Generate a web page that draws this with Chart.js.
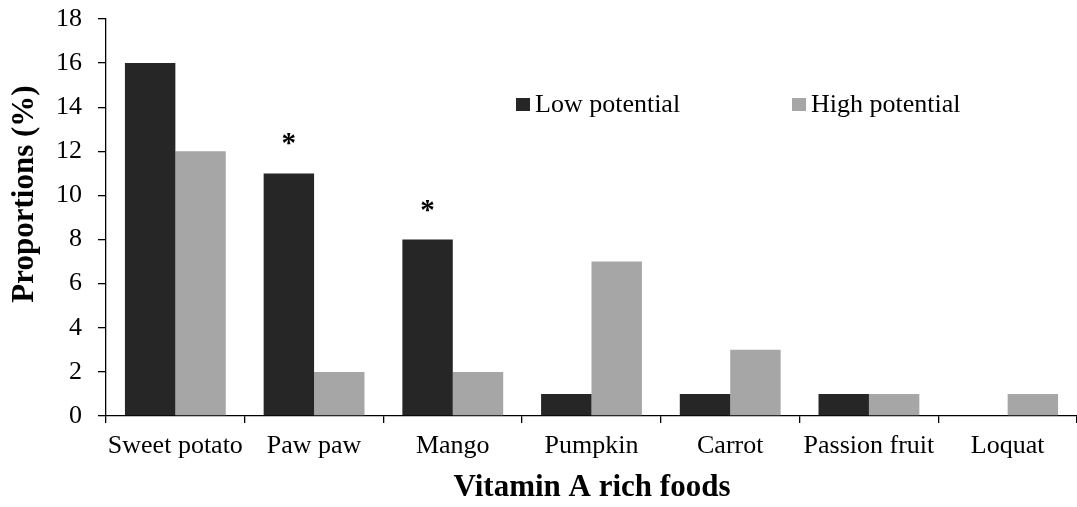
<!DOCTYPE html>
<html>
<head>
<meta charset="utf-8">
<title>Vitamin A rich foods</title>
<script src="https://cdn.jsdelivr.net/npm/chart.js@4/dist/chart.umd.min.js"></script>
<style>
    html, body { margin: 0; padding: 0; background: #ffffff; }
    #wrap { width: 1077px; height: 507px; position: relative; }
</style>
</head>
<body>
<div id="wrap"><canvas id="foodChart" width="1077" height="507"></canvas></div>
<script>
// ---------- data ----------
const foods = ['Sweet potato', 'Paw paw', 'Mango', 'Pumpkin', 'Carrot', 'Passion fruit', 'Loquat'];
const lowPotential = [16, 11, 8, 1, 1, 1, 0];
const highPotential = [12, 2, 2, 7, 3, 1, 1];
const lowMarks = ['', '*', '*', '', '', '', '']; // significance flags over the low potential bars
const yTicks = [0, 2, 4, 6, 8, 10, 12, 14, 16, 18];

const SERIF = '"Liberation Serif", "Times New Roman", Times, serif';
const DARK = '#262626';
const GREY = '#a6a6a6';

// axis titles, legend and asterisks are drawn by hand on the canvas
const extrasPlugin = {
    id: 'extras',
    afterDraw(chart) {
        const ctx = chart.ctx;
        ctx.save();
        ctx.fillStyle = '#000';

        // y axis title
        ctx.font = 'bold 31px ' + SERIF;
        ctx.textAlign = 'center';
        ctx.textBaseline = 'middle';
        ctx.save();
        ctx.translate(25, 194);
        ctx.rotate(-Math.PI / 2);
        ctx.fillText('Proportions (%)', 0, 0);
        ctx.restore();

        // x axis title
        ctx.fillText('Vitamin A rich foods', 592, 488);

        // legend
        ctx.font = '26px ' + SERIF;
        ctx.textAlign = 'left';
        ctx.textBaseline = 'alphabetic';
        const legendItems = [
            { x: 516, ds: chart.data.datasets[0] },
            { x: 792, ds: chart.data.datasets[1] }
        ];
        legendItems.forEach(item => {
            ctx.fillStyle = item.ds.backgroundColor;
            ctx.fillRect(item.x, 98, 14, 13);
            ctx.fillStyle = '#000';
            ctx.fillText(item.ds.label, item.x + 19, 112);
        });

        // asterisks above the flagged bars
        ctx.font = 'bold 29px ' + SERIF;
        ctx.textAlign = 'center';
        const meta = chart.getDatasetMeta(0);
        lowMarks.forEach((mark, i) => {
            if (!mark) return;
            const bar = meta.data[i];
            ctx.fillText(mark, bar.x, bar.y - 21);
        });
        ctx.restore();
    }
};

new Chart(document.getElementById('foodChart'), {
    type: 'bar',
    data: {
        labels: foods,
        datasets: [
            { label: 'Low potential', data: lowPotential, backgroundColor: DARK },
            { label: 'High potential', data: highPotential, backgroundColor: GREY }
        ]
    },
    options: {
        responsive: false,
        animation: false,
        events: [],
        datasets: {
            bar: { categoryPercentage: 0.727, barPercentage: 1.0 }
        },
        layout: { padding: { top: 19, right: 0, left: 0, bottom: 0 } },
        plugins: {
            legend: { display: false },
            tooltip: { enabled: false }
        },
        scales: {
            x: {
                grid: {
                    offset: true,
                    drawOnChartArea: false,
                    color: '#000',
                    lineWidth: 1.3,
                    tickLength: 7
                },
                border: { color: '#000', width: 1.3 },
                ticks: {
                    color: '#000',
                    font: { family: SERIF, size: 26 },
                    padding: 8,
                    maxRotation: 0,
                    autoSkip: false
                },
                afterFit(scale) {
                    scale.height = 91;
                    scale.paddingLeft = 0;
                    scale.paddingRight = 0;
                }
            },
            y: {
                min: 0,
                max: 18,
                afterBuildTicks(scale) { scale.ticks = yTicks.map(v => ({ value: v })); },
                grid: {
                    drawOnChartArea: false,
                    color: '#000',
                    lineWidth: 1.3,
                    tickLength: 8
                },
                border: { color: '#000', width: 1.3 },
                ticks: {
                    color: '#000',
                    font: { family: SERIF, size: 26 },
                    padding: 16
                },
                afterFit(scale) {
                    scale.width = 106;
                    scale.paddingTop = 0;
                    scale.paddingBottom = 0;
                }
            }
        }
    },
    plugins: [extrasPlugin]
});
</script>
</body>
</html>
